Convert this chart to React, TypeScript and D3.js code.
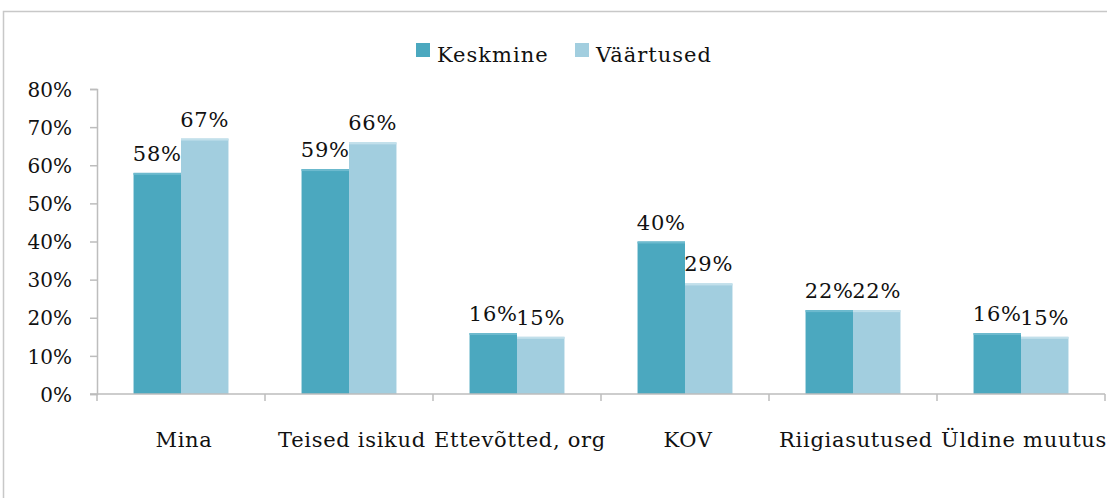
import React, { useEffect, useRef } from 'react';
import * as d3 from 'd3';

const categories = ['Mina', 'Teised isikud', 'Ettevõtted, org', 'KOV', 'Riigiasutused', 'Üldine muutus'];
const seriesNames = ['Keskmine', 'Väärtused'];
const keskmine = [0.58, 0.59, 0.16, 0.40, 0.22, 0.16];
const vaartused = [0.67, 0.66, 0.15, 0.29, 0.22, 0.15];
const yTicks = [0, 0.1, 0.2, 0.3, 0.4, 0.5, 0.6, 0.7, 0.8];
const colors = ['#4BA8BF', '#A2CEDF'];
const topEdge = ['#6DBACE', '#C2E0EB'];

const FONT = '"DejaVu Serif", serif';

const App = () => {
  const svgRef = useRef<SVGSVGElement>(null);

  useEffect(() => {
    const svg = d3.select(svgRef.current);
    svg.selectAll('*').remove();

    const width = 1107;
    const height = 498;
    const left = 97;
    const right = 1105;
    const top = 89;
    const bottom = 394;

    // outer frame
    svg.append('rect')
      .attr('x', 3.5).attr('y', 11.5)
      .attr('width', width + 20).attr('height', height + 20)
      .attr('fill', 'none').attr('stroke', '#c8c8c8').attr('stroke-width', 1.5);

    const x0 = d3.scaleBand().domain(categories).range([left, right]);
    const x1 = d3.scaleBand().domain(seriesNames).range([0, x0.step()]).paddingOuter(0.77).paddingInner(0);
    const y = d3.scaleLinear().domain([0, 0.8]).range([bottom, top]);

    const data = categories.map((c, i) => ({ cat: c, values: [keskmine[i], vaartused[i]] }));

    // y axis
    const yAxis = svg.append('g')
      .attr('transform', `translate(${left},0)`)
      .call(d3.axisLeft(y).tickValues(yTicks).tickFormat(d3.format('.0%')).tickSize(7).tickPadding(18));
    yAxis.select('.domain').attr('stroke', '#bdbdbd').attr('stroke-width', 1.5);
    yAxis.selectAll('.tick line').attr('stroke', '#bdbdbd').attr('stroke-width', 1.5);
    yAxis.selectAll('.tick text')
      .attr('font-family', FONT).attr('font-size', 20).attr('fill', '#111').attr('dy', '0.36em');

    // bars
    const groups = svg.append('g').selectAll('g')
      .data(data).join('g')
      .attr('transform', d => `translate(${x0(d.cat)},0)`);

    const items = (d: { values: number[] }) => d.values.map((v, i) => ({ key: seriesNames[i], v, i }));

    groups.selectAll('rect.bar')
      .data(items)
      .join('rect')
      .attr('class', 'bar')
      .attr('x', d => x1(d.key)!)
      .attr('y', d => y(d.v))
      .attr('width', x1.bandwidth())
      .attr('height', d => bottom - y(d.v))
      .attr('fill', d => colors[d.i]);

    groups.selectAll('rect.edge')
      .data(items)
      .join('rect')
      .attr('class', 'edge')
      .attr('x', d => x1(d.key)!)
      .attr('y', d => y(d.v))
      .attr('width', x1.bandwidth())
      .attr('height', 2)
      .attr('fill', d => topEdge[d.i]);

    groups.selectAll('text')
      .data(items)
      .join('text')
      .attr('x', d => x1(d.key)! + x1.bandwidth() / 2)
      .attr('y', d => y(d.v) - 12)
      .attr('text-anchor', 'middle')
      .attr('font-family', FONT).attr('font-size', 21).attr('letter-spacing', 0.8).attr('fill', '#111')
      .text(d => d3.format('.0%')(d.v));

    // x axis
    const xAxis = svg.append('g').attr('transform', `translate(0,${bottom})`);
    xAxis.append('line')
      .attr('x1', left - 7).attr('x2', right)
      .attr('stroke', '#bdbdbd').attr('stroke-width', 1.5);
    xAxis.selectAll('line.tick')
      .data(categories.concat(['end']))
      .join('line')
      .attr('class', 'tick')
      .attr('x1', (d, i) => left + i * x0.step())
      .attr('x2', (d, i) => left + i * x0.step())
      .attr('y1', 0).attr('y2', 7)
      .attr('stroke', '#bdbdbd').attr('stroke-width', 1.5);
    xAxis.selectAll('text')
      .data(categories)
      .join('text')
      .attr('x', d => x0(d)! + x0.bandwidth() / 2 + 3)
      .attr('y', 53)
      .attr('text-anchor', 'middle')
      .attr('font-family', FONT).attr('font-size', 21).attr('letter-spacing', 0.7).attr('fill', '#111')
      .text(d => d);

    // legend
    const legendX = [416, 575];
    const legend = svg.append('g');
    seriesNames.forEach((s, i) => {
      legend.append('rect')
        .attr('x', legendX[i]).attr('y', 43)
        .attr('width', 14).attr('height', 14)
        .attr('fill', colors[i]);
      legend.append('text')
        .attr('x', legendX[i] + 21).attr('y', 62)
        .attr('font-family', FONT).attr('font-size', 21).attr('letter-spacing', 1).attr('fill', '#111')
        .text(s);
    });
  }, []);

  return (
    <svg
      ref={svgRef}
      width={1107}
      height={498}
      style={{ position: 'absolute', left: 0, top: 0, background: '#fff' }}
    />
  );
};

export default App;
